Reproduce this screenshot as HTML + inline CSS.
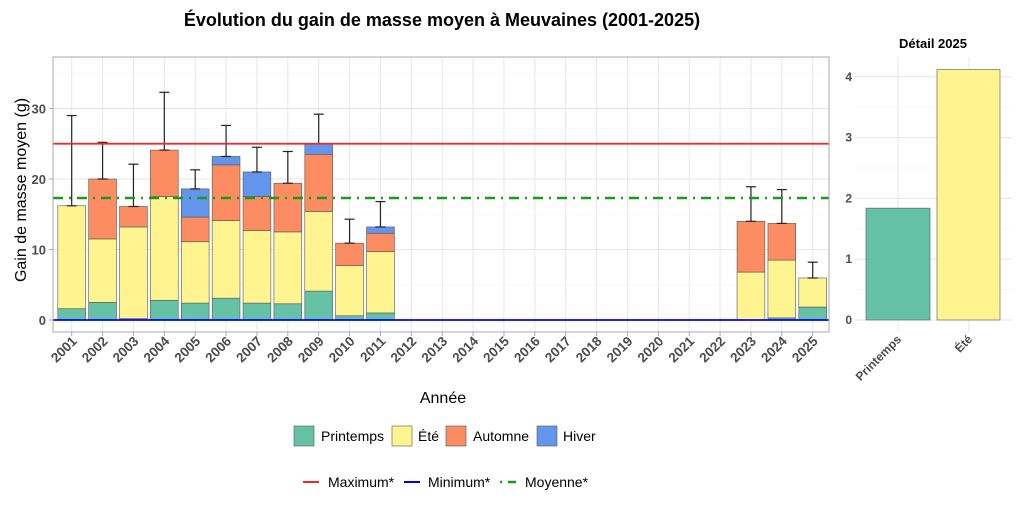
<!DOCTYPE html>
<html><head><meta charset="utf-8"><style>
body{margin:0;background:#fff;}
svg{display:block;font-family:"Liberation Sans",sans-serif;}
</style></head><body>
<svg id="s" width="1024" height="512" xmlns="http://www.w3.org/2000/svg">
<rect width="1024" height="512" fill="#fff"/>
<text x="442" y="26" font-size="18" font-weight="bold" text-anchor="middle" fill="#000">Évolution du gain de masse moyen à Meuvaines (2001-2025)</text>
<g id="g"></g>
</svg>
<script>
const g=document.getElementById('g');let h='';
const Y=v=>320-7.05*v, X=i=>71.7+30.875*i;
const L=53,R=829,T=57,B=332;
for(const v of [5,15,25,35]) h+=`<line x1="${L}" x2="${R}" y1="${Y(v)}" y2="${Y(v)}" stroke="#f2f2f2" stroke-width="0.6"/>`;
for(const v of [0,10,20,30]) h+=`<line x1="${L}" x2="${R}" y1="${Y(v)}" y2="${Y(v)}" stroke="#e6e6e6" stroke-width="1"/>`;
for(let i=0;i<25;i++) h+=`<line x1="${X(i)}" x2="${X(i)}" y1="${T}" y2="${B}" stroke="#e6e6e6"/>`;
const C=['#66c2a5','#fff48f','#fc8d62','#6495ed'];
const d={2001:[1.6,16.2,16.2,16.2,29],2002:[2.5,11.5,20,20,25.2],2003:[0.2,13.2,16.1,16.1,22.1],2004:[2.8,17.5,24.1,24.1,32.3],
2005:[2.4,11.1,14.6,18.6,21.3],2006:[3.1,14.1,22,23.2,27.6],2007:[2.4,12.7,17.5,21,24.5],2008:[2.3,12.5,19.4,19.4,23.9],
2009:[4.1,15.4,23.5,25,29.2],2010:[0.6,7.7,10.9,10.9,14.3],2011:[1,9.7,12.3,13.2,16.8],2023:[0,6.8,14,14,18.9],2024:[0.3,8.5,13.7,13.7,18.5],2025:[1.84,5.96,5.96,5.96,8.2]};
for(const y in d){const i=y-2001,a=d[y],x=X(i)-13.9;let p=0;
 for(let k=0;k<4;k++){if(a[k]>p){h+=`<rect x="${x}" y="${Y(a[k])}" width="27.8" height="${Y(p)-Y(a[k])}" fill="${C[k]}" stroke="#555" stroke-width="0.6"/>`;p=a[k];}}
 const top=a[3];h+=`<line x1="${X(i)}" x2="${X(i)}" y1="${Y(top)}" y2="${Y(a[4])}" stroke="#222" stroke-width="1.2"/><line x1="${X(i)-5}" x2="${X(i)+5}" y1="${Y(a[4])}" y2="${Y(a[4])}" stroke="#222" stroke-width="1.2"/><line x1="${X(i)-5}" x2="${X(i)+5}" y1="${Y(top)}" y2="${Y(top)}" stroke="#222" stroke-width="1.2"/>`;}
h+=`<line x1="${L}" x2="${R}" y1="${Y(25)}" y2="${Y(25)}" stroke="#ff2020" stroke-width="1.8"/>`;
h+=`<line x1="${L}" x2="${R}" y1="${Y(0)}" y2="${Y(0)}" stroke="#0000ff" stroke-width="1.8"/>`;
h+=`<line x1="${L}" x2="${R}" y1="${Y(17.3)}" y2="${Y(17.3)}" stroke="#1a9a1a" stroke-width="2.5" stroke-dasharray="10,6,2,6"/>`;
h+=`<rect x="${L}" y="${T}" width="${R-L}" height="${B-T}" fill="none" stroke="#aaa" stroke-width="1"/>`;
for(const v of [0,10,20,30]) h+=`<text x="46" y="${Y(v)+5}" font-size="13" font-weight="bold" fill="#4d4d4d" text-anchor="end">${v}</text><line x1="49" x2="${L}" y1="${Y(v)}" y2="${Y(v)}" stroke="#aaa"/>`;
for(let i=0;i<25;i++){h+=`<line x1="${X(i)}" x2="${X(i)}" y1="${B}" y2="${B+4}" stroke="#aaa"/><text transform="translate(${X(i)+6},${B+10}) rotate(-45)" font-size="13.5" font-weight="bold" fill="#4d4d4d" text-anchor="end">${2001+i}</text>`;}
h+=`<text transform="translate(26,190) rotate(-90)" font-size="16" text-anchor="middle" fill="#000">Gain de masse moyen (g)</text>`;
h+=`<text x="443" y="403" font-size="16" text-anchor="middle">Année</text>`;
const Y2=v=>320-60.8*v;
for(const v of [0.5,1.5,2.5,3.5]) h+=`<line x1="855" x2="1012" y1="${Y2(v)}" y2="${Y2(v)}" stroke="#f2f2f2" stroke-width="0.6"/>`;
for(const v of [0,1,2,3,4]) h+=`<line x1="855" x2="1012" y1="${Y2(v)}" y2="${Y2(v)}" stroke="#e6e6e6"/><text x="852" y="${Y2(v)+4}" font-size="12" font-weight="bold" fill="#4d4d4d" text-anchor="end">${v}</text>`;
for(const x of [898,969]) h+=`<line x1="${x}" x2="${x}" y1="57" y2="332" stroke="#e6e6e6"/>`;
h+=`<rect x="866" y="${Y2(1.84)}" width="64" height="${320-Y2(1.84)}" fill="#66c2a5" stroke="#555" stroke-width="0.6"/>`;
h+=`<rect x="937" y="${Y2(4.12)}" width="63" height="${320-Y2(4.12)}" fill="#fff48f" stroke="#555" stroke-width="0.6"/>`;
h+=`<text x="933" y="48" font-size="13" font-weight="bold" text-anchor="middle">Détail 2025</text>`;
h+=`<text transform="translate(902,340) rotate(-45)" font-size="12" font-weight="bold" fill="#4d4d4d" text-anchor="end">Printemps</text>`;
h+=`<text transform="translate(973,340) rotate(-45)" font-size="12" font-weight="bold" fill="#4d4d4d" text-anchor="end">Été</text>`;
const lg=[[294,321,'Printemps'],[392,418,'Été'],[446,473,'Automne'],[537,563,'Hiver']];
lg.forEach((l,k)=>{h+=`<rect x="${l[0]}" y="426" width="20" height="20" fill="${C[k]}" stroke="#555" stroke-width="0.6"/><text x="${l[1]}" y="441" font-size="14">${l[2]}</text>`;});
h+=`<line x1="303" x2="319" y1="482" y2="482" stroke="#ff2020" stroke-width="2"/><text x="328" y="487" font-size="14">Maximum*</text>`;
h+=`<line x1="404" x2="420" y1="482" y2="482" stroke="#0000ff" stroke-width="2"/><text x="428" y="487" font-size="14">Minimum*</text>`;
h+=`<line x1="500" x2="516" y1="482" y2="482" stroke="#1a9a1a" stroke-width="2.5" stroke-dasharray="2,6,8,0"/><text x="525" y="487" font-size="14">Moyenne*</text>`;
g.innerHTML=h;
</script>
</body></html>
